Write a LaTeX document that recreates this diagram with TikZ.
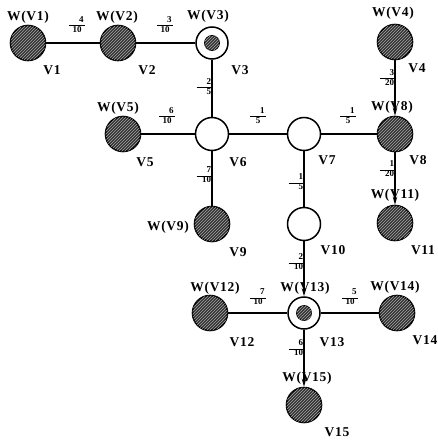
\documentclass[tikz,border=0pt]{standalone}
\usepackage{fontspec}
\setmainfont{Liberation Serif}
\newfontfamily\labfont{Liberation Serif}[LetterSpace=5.0]
\usetikzlibrary{patterns,arrows.meta}
\newcommand{\frv}[2]{\renewcommand\arraystretch{0.9}\setlength\arrayrulewidth{1pt}\begin{tabular}{@{}r@{}}\makebox[16pt][r]{#1\,}\\\hline #2\,\end{tabular}}
\newcommand{\frh}[2]{\renewcommand\arraystretch{0.9}\setlength\arrayrulewidth{1pt}\begin{tabular}{@{}c@{}}\makebox[16pt][r]{#1\,}\\\hline #2\end{tabular}}
\tikzset{
  hatched/.style={circle, draw=black, line width=1.6pt, minimum size=35pt, inner sep=0pt,
    fill=black!80, postaction={pattern=north east lines, pattern color=black!35}},
  emptyv/.style={circle, draw=black, line width=1.5pt, minimum size=33pt, inner sep=0pt, fill=white},
  dblv/.style={circle, draw=black, line width=1.5pt, minimum size=32pt, inner sep=0pt, fill=white},
  corev/.style={circle, draw=black, line width=0.8pt, minimum size=15pt, inner sep=0pt,
    fill=black!80, postaction={pattern=north east lines, pattern color=black!35}},
  lab/.style={font=\labfont\bfseries\fontsize{13.5}{14}\selectfont, inner sep=0pt},
  frl/.style={font=\bfseries\fontsize{9}{10}\selectfont, inner sep=0pt},
  edgel/.style={line width=1.4pt},
  arr/.style={edgel, -{Stealth[length=8pt,width=4.5pt]}}
}
\begin{document}
\begin{tikzpicture}[x=1pt,y=-1pt]
\useasboundingbox (0,0) rectangle (438,441);
% vertices
\node[hatched] (V1) at (28,43) {};
\node[hatched] (V2) at (118,43) {};
\node[dblv] (V3) at (212,43) {};
\node[corev] (C3) at (212,43) {};
\node[hatched] (V4) at (395,42) {};
\node[hatched] (V5) at (123,134) {};
\node[emptyv] (V6) at (212,134) {};
\node[emptyv] (V7) at (304,134) {};
\node[hatched] (V8) at (395,134) {};
\node[hatched] (V9) at (212,224) {};
\node[emptyv] (V10) at (304,224) {};
\node[hatched] (V11) at (395,223) {};
\node[hatched] (V12) at (210,313) {};
\node[dblv] (V13) at (304,313) {};
\node[corev] (C13) at (304,313) {};
\node[hatched] (V14) at (397,313) {};
\node[hatched] (V15) at (304,405) {};
% weight labels
\node[lab] (W1) at (28,17) {W(V1)};
\node[lab] (W2) at (117,17) {W(V2)};
\node[lab] (W3) at (208,16) {W(V3)};
\node[lab] (W4) at (393,13) {W(V4)};
\node[lab] (W5) at (118,108) {W(V5)};
\node[lab] (W8) at (392,107) {W(V8)};
\node[lab] (W9) at (168,227) {W(V9)};
\node[lab] (W11) at (395,195) {W(V11)};
\node[lab] (W12) at (215,288) {W(V12)};
\node[lab] (W13) at (305,288) {W(V13)};
\node[lab] (W14) at (395,287) {W(V14)};
\node[lab] (W15) at (307,378) {W(V15)};
% vertex names
\node[lab] (L1) at (52,70) {V1};
\node[lab] (L2) at (147,70) {V2};
\node[lab] (L3) at (240,70) {V3};
\node[lab] (L4) at (417,68) {V4};
\node[lab] (L5) at (145,162) {V5};
\node[lab] (L6) at (238,162) {V6};
\node[lab] (L7) at (327,160) {V7};
\node[lab] (L8) at (418,160) {V8};
\node[lab] (L9) at (238,252) {V9};
\node[lab] (L10) at (333,250) {V10};
\node[lab] (L11) at (423,250) {V11};
\node[lab] (L12) at (242,342) {V12};
\node[lab] (L13) at (332,342) {V13};
\node[lab] (L14) at (425,340) {V14};
\node[lab] (L15) at (337,432) {V15};
% edges
\draw[edgel] (V1) -- (V2);
\draw[edgel] (V2) -- (V3);
\draw[edgel] (V3) -- (V6);
\draw[edgel] (V5) -- (V6);
\draw[edgel] (V6) -- (V7);
\draw[edgel] (V7) -- (V8);
\draw[edgel] (V6) -- (V9);
\draw[edgel] (V7) -- (V10);
\draw[arr] (V4) -- (V8);
\draw[arr] (V8) -- (V11);
\draw[arr] (V10) -- (V13);
\draw[edgel] (V12) -- (V13);
\draw[edgel] (V13) -- (V14);
\draw[arr] (V13) -- (V15);
% edge weights
\node[frl] (F12) at (77,26) {\frh{4}{10}};
\node[frl] (F23) at (165,26) {\frh{3}{10}};
\node[frl] (F56) at (167,117) {\frh{6}{10}};
\node[frl] (F67) at (258,117) {\frh{1}{5}};
\node[frl] (F78) at (348,117) {\frh{1}{5}};
\node[frl] (F1213) at (258,298) {\frh{7}{10}};
\node[frl] (F1314) at (350,298) {\frh{5}{10}};
\node[frl, anchor=east] (F36) at (212.7,88) {\frv{2}{5}};
\node[frl, anchor=east] (F48) at (395.7,79) {\frv{3}{20}};
\node[frl, anchor=east] (F69) at (212.7,176) {\frv{7}{10}};
\node[frl, anchor=east] (F710) at (304.7,183) {\frv{1}{5}};
\node[frl, anchor=east] (F811) at (395.7,170) {\frv{1}{20}};
\node[frl, anchor=east] (F1013) at (304.7,263) {\frv{2}{10}};
\node[frl, anchor=east] (F1315) at (304.7,349) {\frv{6}{10}};
\end{tikzpicture}
\end{document}
